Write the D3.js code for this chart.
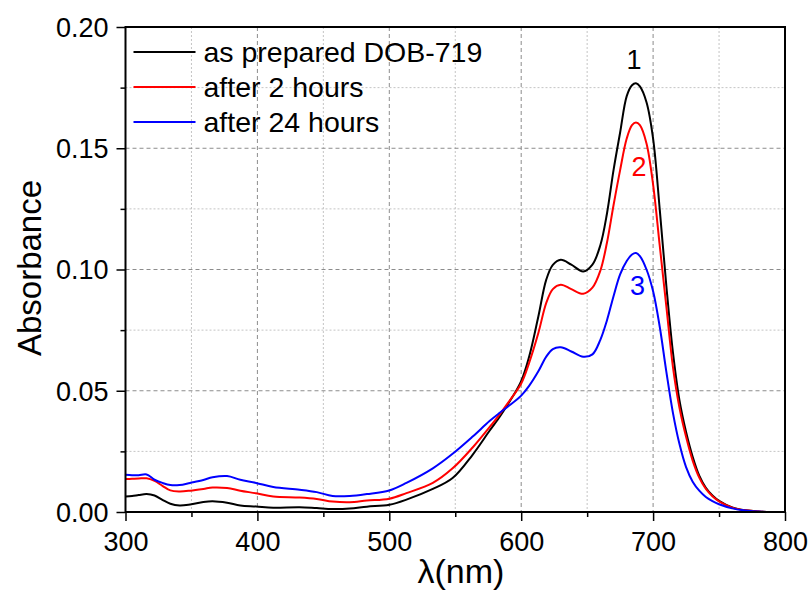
<!DOCTYPE html>
<html>
<head>
<meta charset="utf-8">
<script src="https://cdn.jsdelivr.net/npm/d3@7"></script>
<style>
  body { margin: 0; background: #fff; }
  svg { display: block; font-family: Arial, "Liberation Sans", sans-serif; }
  .grid-major { stroke: #8c8c8c; stroke-width: 1; stroke-dasharray: 4,3; }
  .grid-minor { stroke: #c4c4c4; stroke-width: 1; stroke-dasharray: 2,2; }
</style>
</head>
<body>
<svg id="chart" width="811" height="590"></svg>
<script>
// wavelengths (nm) shared by the three spectra
var wavelengths = [300, 305, 310, 316, 322, 328, 334, 341, 349, 359, 366, 377, 387, 399, 412, 432, 445, 457, 470, 483,
  500, 513, 533, 548, 563, 576, 584, 590, 600, 606, 613, 619, 624, 630, 638, 647, 654, 660, 665, 670, 675, 680,
  684, 687, 690, 695, 700, 705, 710, 715, 720, 725, 730, 735, 740, 745, 750, 760, 770, 780, 790, 800];

var asPrepared = [0.0064, 0.0066, 0.0070, 0.0074, 0.0068, 0.0050, 0.0034, 0.0027, 0.0031, 0.0041, 0.0044, 0.0038, 0.0027, 0.0023, 0.0018, 0.0020, 0.0016, 0.0012, 0.0014, 0.0022,
  0.0030, 0.0051, 0.0095, 0.0140, 0.0235, 0.0335, 0.0395, 0.0445, 0.0540, 0.0640, 0.0806, 0.0958, 0.1019, 0.1040, 0.1020, 0.0992, 0.1020, 0.1100, 0.1230, 0.1410, 0.1565, 0.1715,
  0.1760, 0.1768, 0.1755, 0.1690, 0.1540, 0.1250, 0.0935, 0.0660, 0.0460, 0.0330, 0.0228, 0.0150, 0.0100, 0.0068, 0.0046, 0.0019, 0.0007, 0.0002, 0.0000, 0.0000];

var after2h = [0.0136, 0.0137, 0.0138, 0.0139, 0.0128, 0.0108, 0.0089, 0.0085, 0.0088, 0.0095, 0.0101, 0.0099, 0.0088, 0.0077, 0.0064, 0.0060, 0.0054, 0.0043, 0.0040, 0.0047,
  0.0055, 0.0078, 0.0120, 0.0180, 0.0265, 0.0350, 0.0405, 0.0450, 0.0530, 0.0615, 0.0738, 0.0862, 0.0919, 0.0937, 0.0919, 0.0900, 0.0925, 0.0995, 0.1110, 0.1265, 0.1410, 0.1540,
  0.1595, 0.1606, 0.1595, 0.1520, 0.1350, 0.1100, 0.0850, 0.0600, 0.0430, 0.0310, 0.0212, 0.0142, 0.0095, 0.0065, 0.0044, 0.0018, 0.0007, 0.0002, 0.0000, 0.0000];

var after24h = [0.0154, 0.0152, 0.0152, 0.0155, 0.0133, 0.0120, 0.0111, 0.0111, 0.0120, 0.0132, 0.0143, 0.0148, 0.0133, 0.0120, 0.0103, 0.0092, 0.0082, 0.0066, 0.0066, 0.0074,
  0.0089, 0.0120, 0.0180, 0.0240, 0.0310, 0.0375, 0.0410, 0.0435, 0.0480, 0.0520, 0.0580, 0.0641, 0.0672, 0.0679, 0.0662, 0.0640, 0.0650, 0.0710, 0.0790, 0.0890, 0.0980, 0.1035,
  0.1062, 0.1068, 0.1055, 0.1000, 0.0910, 0.0765, 0.0580, 0.0410, 0.0280, 0.0185, 0.0125, 0.0088, 0.0062, 0.0045, 0.0032, 0.0015, 0.0006, 0.0002, 0.0000, 0.0000];

var seriesNames = ["as prepared DOB-719", "after 2 hours", "after 24 hours"];
var seriesColors = ["#000000", "#ff0000", "#0000ff"];
var peakLabels = ["1", "2", "3"];

var xTicks = [300, 400, 500, 600, 700, 800];
var xMinorTicks = [350, 450, 550, 650, 750];
var yTicks = [0, 0.05, 0.10, 0.15, 0.20];
var yMinorTicks = [0.025, 0.075, 0.125, 0.175];

var margin = {left: 125.5, top: 27, right: 26, bottom: 78};
var W = 811, H = 590;
var iw = W - margin.left - margin.right, ih = H - margin.top - margin.bottom;

var svg = d3.select("#chart");
var g = svg.append("g").attr("transform", "translate(" + margin.left + "," + margin.top + ")");

var x = d3.scaleLinear().domain([300, 800]).range([0, iw]);
var y = d3.scaleLinear().domain([0, 0.20]).range([ih, 0]);

// grid
g.selectAll("line.gxm").data(xMinorTicks).enter().append("line")
  .attr("class", "grid-minor").attr("x1", x).attr("x2", x).attr("y1", 0).attr("y2", ih);
g.selectAll("line.gym").data(yMinorTicks).enter().append("line")
  .attr("class", "grid-minor").attr("y1", y).attr("y2", y).attr("x1", 0).attr("x2", iw);
g.selectAll("line.gx").data(xTicks.slice(1, -1)).enter().append("line")
  .attr("class", "grid-major").attr("x1", x).attr("x2", x).attr("y1", 0).attr("y2", ih);
g.selectAll("line.gy").data(yTicks.slice(1, -1)).enter().append("line")
  .attr("class", "grid-major").attr("y1", y).attr("y2", y).attr("x1", 0).attr("x2", iw);

// curves
var line = d3.line().curve(d3.curveCatmullRom.alpha(0.5));
[asPrepared, after2h, after24h].forEach(function(vals, i){
  g.append("path")
    .attr("d", line(wavelengths.map(function(w, j){ return [x(w), y(vals[j])]; })))
    .attr("fill", "none")
    .attr("stroke", seriesColors[i])
    .attr("stroke-width", 2)
    .attr("stroke-linejoin", "round");
});

// axes
var xAxis = g.append("g").attr("transform", "translate(0," + ih + ")")
  .call(d3.axisBottom(x).tickValues(xTicks).tickSize(9).tickFormat(d3.format("d")));
g.append("g").attr("transform", "translate(0," + ih + ")")
  .call(d3.axisBottom(x).tickValues(xMinorTicks).tickSize(5).tickFormat(""));
var yAxis = g.append("g")
  .call(d3.axisLeft(y).tickValues(yTicks).tickSize(9).tickFormat(d3.format(".2f")));
g.append("g")
  .call(d3.axisLeft(y).tickValues(yMinorTicks).tickSize(5).tickFormat(""));

g.selectAll(".domain").remove();
g.selectAll(".tick line").attr("stroke", "#000").attr("stroke-width", 1.5);
xAxis.selectAll("text").attr("font-size", 27).attr("fill", "#000").attr("dy", null).attr("y", 39);
yAxis.selectAll("text").attr("font-size", 27).attr("fill", "#000").attr("dy", "0.35em").attr("x", -17);

// frame
g.append("rect").attr("width", iw).attr("height", ih)
  .attr("fill", "none").attr("stroke", "#000").attr("stroke-width", 2);

// axis titles
svg.append("text").attr("x", 461).attr("y", 583).attr("text-anchor", "middle")
  .attr("font-size", 34).text("λ(nm)");
svg.append("text").attr("transform", "translate(41,268) rotate(-90)").attr("text-anchor", "middle")
  .attr("font-size", 33).text("Absorbance");

// legend
var legend = g.append("g").attr("transform", "translate(8,25)");
seriesNames.forEach(function(name, i){
  var row = legend.append("g").attr("transform", "translate(0," + (i * 35) + ")");
  row.append("line").attr("x1", 0).attr("x2", 62).attr("stroke", seriesColors[i]).attr("stroke-width", 2);
  row.append("text").attr("x", 70).attr("dy", "0.35em").attr("font-size", 28.5).text(name);
});

// peak numbers
var peakValues = [d3.max(asPrepared), d3.max(after2h), d3.max(after24h)];
var peakDy = [-14, 53, 42];
var peakDx = [-2, 3, 1.5];
peakLabels.forEach(function(lbl, i){
  g.append("text").attr("x", x(687) + peakDx[i]).attr("y", y(peakValues[i]) + peakDy[i])
    .attr("text-anchor", "middle").attr("font-size", 27).attr("fill", seriesColors[i]).text(lbl);
});
</script>
</body>
</html>
